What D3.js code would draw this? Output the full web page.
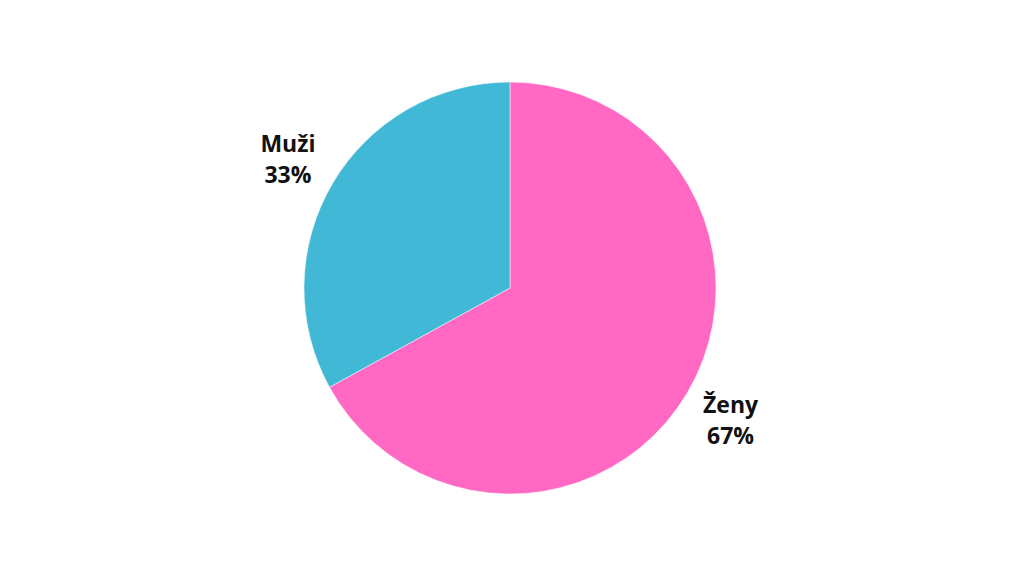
<!DOCTYPE html>
<html>
<head>
<meta charset="utf-8">
<script src="https://cdn.jsdelivr.net/npm/d3@7"></script>
<style>
  body { margin: 0; background: #fff; }
  svg text { font-family: "Open Sans", sans-serif; font-weight: 700; fill: #111; }
</style>
</head>
<body>
<svg id="chart"></svg>
<script>
// data
const labels = ["Ženy", "Muži"];
const shares = [67, 33];
const colors = ["#FF69C4", "#42B8D7"];

const width = 1024, height = 576;
const cx = 510, cy = 288, radius = 206;

const svg = d3.select("#chart")
    .attr("width", width)
    .attr("height", height);

const data = labels.map((l, i) => ({ label: l, value: shares[i], color: colors[i] }));

const pie = d3.pie().sort(null).value(d => d.value);
const arc = d3.arc().innerRadius(0).outerRadius(radius);

const g = svg.append("g").attr("transform", `translate(${cx}, ${cy})`);

const arcs = pie(data);

g.selectAll("path")
    .data(arcs)
    .join("path")
    .attr("d", arc)
    .attr("fill", d => d.data.color)
    .attr("stroke", "#fff")
    .attr("stroke-width", 0.5);

// labels outside the slices, at a fixed angle (radians from top, clockwise)
const labelAngles = [2.11, 5.24];
const labelR = 257;

const lab = g.selectAll("g.lab")
    .data(arcs)
    .join("g")
    .attr("class", "lab")
    .attr("transform", (d, i) => {
        const a = labelAngles[i];
        return `translate(${Math.sin(a) * labelR}, ${-Math.cos(a) * labelR})`;
    });

lab.append("text")
    .attr("text-anchor", "middle")
    .attr("y", -7)
    .style("font-size", "23px")
    .text(d => d.data.label);

lab.append("text")
    .attr("text-anchor", "middle")
    .attr("y", 24)
    .style("font-size", "23px")
    .text(d => d.data.value + "%");
</script>
</body>
</html>
